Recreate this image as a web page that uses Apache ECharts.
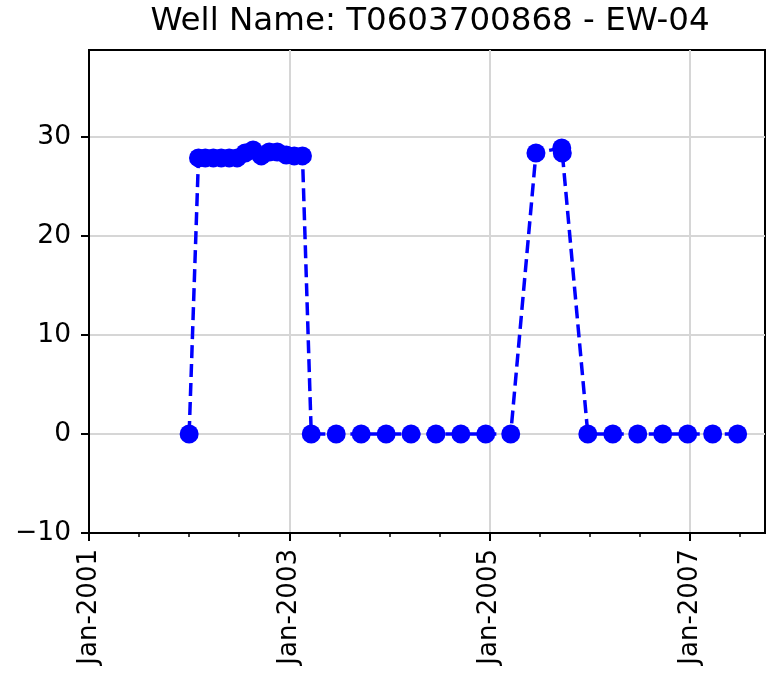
<!DOCTYPE html>
<html>
<head>
<meta charset="utf-8">
<script src="https://cdn.jsdelivr.net/npm/echarts@6/dist/echarts.min.js"></script>
<style>html,body{margin:0;padding:0;background:#fff}#chart{width:766px;height:675px}</style>
</head>
<body>
<div id="chart"></div>
<script>
const titleText = 'Well Name: T0603700868 - EW-04';
const dates = [
  '2002-01-01',
  '2002-02-04','2002-03-01','2002-03-30','2002-04-28','2002-05-27','2002-06-25','2002-07-24',
  '2002-08-22','2002-09-21','2002-10-20','2002-11-18','2002-12-21','2003-01-19','2003-02-18',
  '2003-03-22','2003-06-21','2003-09-20','2003-12-20','2004-03-20','2004-06-19','2004-09-18',
  '2004-12-18','2005-03-19',
  '2005-06-19','2005-09-21','2005-09-23',
  '2005-12-25','2006-03-26','2006-06-25','2006-09-24','2006-12-24','2007-03-25','2007-06-24'
];
const values = [
  0,
  27.9,27.9,27.9,27.9,27.9,27.9,28.4,
  28.7,28.1,28.5,28.5,28.2,28.1,28.1,
  0,0,0,0,0,0,0,
  0,0,
  28.4,28.9,28.4,
  0,0,0,0,0,0,0
];
const xTickYears = [2001, 2003, 2005, 2007];
const yTicks = [-10, 0, 10, 20, 30];

function toDecimalYear(s) {
  const p = s.split('-').map(Number);
  const y = p[0];
  const t = Date.UTC(y, p[1] - 1, p[2]);
  const a = Date.UTC(y, 0, 1), b = Date.UTC(y + 1, 0, 1);
  return y + (t - a) / (b - a);
}
const seriesData = dates.map((d, i) => [toDecimalYear(d), values[i]]);

const FONT = 'DejaVu Sans';
const chart = echarts.init(document.getElementById('chart'), null, {renderer: 'canvas'});
chart.setOption({
  animation: false,
  backgroundColor: '#ffffff',
  graphic: [{
    type: 'text', x: 430, y: 5, z: 10,
    style: {text: titleText, align: 'center', verticalAlign: 'top',
            font: '32.5px "DejaVu Sans"', fill: '#000'}
  }],
  grid: {left: 89, right: 1, top: 50, bottom: 142, show: true,
         borderColor: '#000', borderWidth: 2, backgroundColor: 'transparent', containLabel: false},
  xAxis: {
    type: 'value', min: 2001, max: 2007.75, interval: 2,
    axisLine: {show: true, onZero: false, lineStyle: {color: '#000', width: 2}},
    axisTick: {show: true, length: 8, inside: false, lineStyle: {color: '#000', width: 2}, customValues: xTickYears},
    minorTick: {show: true, splitNumber: 4, length: 4, lineStyle: {color: '#000', width: 1.5}},
    splitLine: {show: true, lineStyle: {color: '#d6d6d6', width: 2}},
    axisLabel: {
      customValues: xTickYears,
      rotate: 90, margin: 16, color: '#000', fontFamily: FONT, fontSize: 26,
      formatter: v => 'Jan-' + Math.round(v)
    }
  },
  yAxis: {
    type: 'value', min: -10, max: 38.8, interval: 10,
    axisLine: {show: true, onZero: false, lineStyle: {color: '#000', width: 2}},
    axisTick: {show: true, length: 8, inside: false, lineStyle: {color: '#000', width: 2}, customValues: yTicks},
    splitLine: {show: true, lineStyle: {color: '#d6d6d6', width: 2}},
    axisLabel: {
      customValues: yTicks,
      margin: 18, color: '#000', fontFamily: FONT, fontSize: 26.5,
      formatter: v => (v < 0 ? '\u2212' + Math.abs(v) : String(v))
    }
  },
  series: [{
    type: 'line',
    data: seriesData,
    symbol: 'circle', symbolSize: 19,
    itemStyle: {color: '#0000ff', borderWidth: 0},
    lineStyle: {color: '#0000ff', width: 3.5, type: [13, 6]},
    z: 5
  }]
});
</script>
</body>
</html>
